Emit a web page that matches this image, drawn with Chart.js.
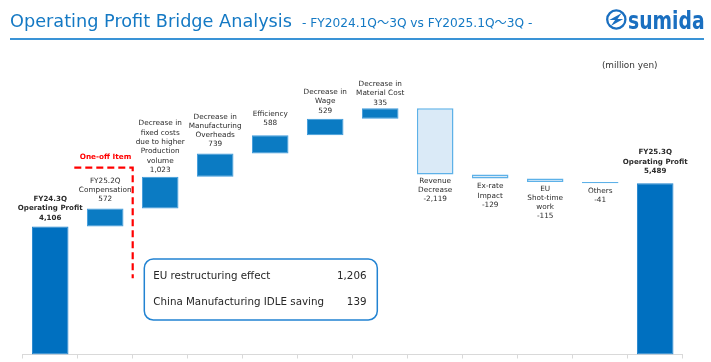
<!DOCTYPE html>
<html>
<head>
<meta charset="utf-8">
<script src="https://cdn.jsdelivr.net/npm/chart.js@4.4.1/dist/chart.umd.min.js"></script>
<style>
  body { margin: 0; background: #fff; }
  #wrap { position: relative; width: 711px; height: 362px; overflow: hidden; }
</style>
</head>
<body>
<div id="wrap">
  <canvas id="js-bridge-chart" width="711" height="362"></canvas>
</div>
<script>
// data
const categories = [
  ['FY24.3Q', 'Operating Profit'],
  ['FY25.2Q', 'Compensation'],
  ['Decrease in', 'fixed costs', 'due to higher', 'Production', 'volume'],
  ['Decrease in', 'Manufacturing', 'Overheads'],
  ['Efficiency'],
  ['Decrease in', 'Wage'],
  ['Decrease in', 'Material Cost'],
  ['Revenue', 'Decrease'],
  ['Ex-rate', 'Impact'],
  ['EU', 'Shot-time', 'work'],
  ['Others'],
  ['FY25.3Q', 'Operating Profit']
];
const startValue = 4106;
const changes = [572, 1023, 739, 588, 529, 335, -2119, -129, -115, -41];
const endValue = 5489;
const boxItems = ['EU restructuring effect', 'China Manufacturing IDLE saving'];
const boxValues = [1206, 139];

// distance of the label block from its bar (px), as placed on the slide
const labelGap = [8.7, 9.3, 6.7, 9, 12, 8, 5.6, 6.4, 8, 6.7, 8, 12];

// floating bars for the bridge
const shownValues = [startValue].concat(changes, [endValue]);
const bars = [[0, startValue]];
let running = startValue;
changes.forEach(c => {
  bars.push([running, running + c]);
  running += c;
});
bars.push([0, endValue]);

const lastIdx = bars.length - 1;
const isTotal = i => i === 0 || i === lastIdx;
const fillColors = shownValues.map((v, i) => isTotal(i) ? '#0070C0' : (v > 0 ? '#0B7BC3' : '#DAEAF7'));
const edgeColors = shownValues.map((v, i) => isTotal(i) ? '#1E82CC' : (v > 0 ? '#3E9ADB' : '#5DB1E8'));
const edgeWidths = shownValues.map(v => v > 0 ? 1 : 1.5);

const FONT = '"DejaVu Sans", Verdana, sans-serif';

// labels above / below each bar
const barLabels = {
  id: 'barLabels',
  afterDatasetsDraw(chart) {
    const { ctx } = chart;
    const meta = chart.getDatasetMeta(0);
    const lineH = 9.3;
    ctx.save();
    ctx.fillStyle = '#2B2B2B';
    ctx.textAlign = 'center';
    ctx.textBaseline = 'middle';
    meta.data.forEach((el, i) => {
      const lines = categories[i].concat([shownValues[i].toLocaleString('en-US')]);
      const top = Math.min(el.y, el.base);
      const bottom = Math.max(el.y, el.base);
      ctx.font = (isTotal(i) ? 'bold 7.1px ' : '7.3px ') + FONT;
      if (shownValues[i] >= 0) {
        const last = top - labelGap[i];
        lines.forEach((t, k) => ctx.fillText(t, el.x, last - (lines.length - 1 - k) * lineH));
      } else {
        const first = bottom + labelGap[i];
        lines.forEach((t, k) => ctx.fillText(t, el.x, first + k * lineH));
      }
    });
    ctx.restore();
  }
};

// slide decoration: title, logo, unit, one-off marker, note box
const slideParts = {
  id: 'slideParts',
  afterDraw(chart) {
    const { ctx, scales: { x } } = chart;
    const half = (x.getPixelForValue(1) - x.getPixelForValue(0)) / 2;
    ctx.save();

    // title
    ctx.textBaseline = 'alphabetic';
    ctx.textAlign = 'left';
    ctx.fillStyle = '#1479C4';
    ctx.font = '17.7px ' + FONT;
    ctx.fillText('Operating Profit Bridge Analysis', 10, 27.3);
    ctx.font = '12.2px ' + FONT + ', "Noto Sans CJK JP"';
    ctx.fillText('- FY2024.1Q〜3Q vs FY2025.1Q〜3Q -', 302, 27.3);

    ctx.strokeStyle = '#3A93D6';
    ctx.lineWidth = 2;
    ctx.beginPath();
    ctx.moveTo(10, 39);
    ctx.lineTo(704, 39);
    ctx.stroke();

    // logo
    const cx = 616.3, cy = 19.5;
    ctx.strokeStyle = '#1A6FC0';
    ctx.fillStyle = '#1A6FC0';
    ctx.lineWidth = 2.3;
    ctx.beginPath();
    ctx.arc(cx, cy, 9.1, 0, Math.PI * 2);
    ctx.stroke();
    ctx.beginPath();
    ctx.moveTo(cx - 7, cy + 0.5);
    ctx.lineTo(cx + 5.5, cy - 6.5);
    ctx.lineTo(cx + 0.5, cy + 0.5);
    ctx.closePath();
    ctx.fill();
    ctx.beginPath();
    ctx.moveTo(cx + 7, cy - 0.5);
    ctx.lineTo(cx - 5.5, cy + 6.5);
    ctx.lineTo(cx - 0.5, cy - 0.5);
    ctx.closePath();
    ctx.fill();
    ctx.save();
    ctx.translate(628, 29.3);
    ctx.scale(0.75, 1);
    ctx.font = 'bold 25px ' + FONT;
    ctx.fillText('sumida', 0, 0);
    ctx.restore();

    // unit
    ctx.fillStyle = '#333';
    ctx.textAlign = 'center';
    ctx.textBaseline = 'middle';
    ctx.font = '8.9px ' + FONT;
    ctx.fillText('(million yen)', 629.7, 65.7);

    // one-off item marker
    const edge = x.getPixelForValue(2) - half;
    ctx.strokeStyle = '#FF0000';
    ctx.lineWidth = 2.2;
    ctx.setLineDash([7, 4]);
    ctx.beginPath();
    ctx.moveTo(x.getPixelForValue(1) - half - 3.4, 167.7);
    ctx.lineTo(edge, 167.7);
    ctx.lineTo(edge, 278.3);
    ctx.stroke();
    ctx.setLineDash([]);
    ctx.fillStyle = '#FF0000';
    ctx.font = 'bold 7.3px ' + FONT;
    ctx.fillText('One-off Item', 105.5, 157.3);

    // note box
    ctx.fillStyle = '#fff';
    ctx.strokeStyle = '#2283D2';
    ctx.lineWidth = 1.5;
    ctx.beginPath();
    ctx.roundRect(144.3, 259, 233, 61, 9);
    ctx.fill();
    ctx.stroke();
    ctx.fillStyle = '#262626';
    ctx.font = '10.3px ' + FONT;
    boxItems.forEach((t, k) => {
      const y = 276.7 + k * 26;
      ctx.textAlign = 'left';
      ctx.fillText(t, 153.3, y);
      ctx.textAlign = 'right';
      ctx.fillText(boxValues[k].toLocaleString('en-US'), 366.5, y);
    });

    ctx.restore();
  }
};

const ctx = document.getElementById('js-bridge-chart').getContext('2d');
const bridgeChart = new Chart(ctx, {
  type: 'bar',
  data: {
    labels: categories,
    datasets: [{
      data: bars,
      backgroundColor: fillColors,
      borderColor: edgeColors,
      borderWidth: edgeWidths,
      borderSkipped: false,
      barPercentage: 0.665,
      categoryPercentage: 1
    }]
  },
  options: {
    responsive: false,
    animation: false,
    devicePixelRatio: 1,
    layout: { padding: { left: 22.7, right: 28.3, top: 42.5, bottom: 3.5 } },
    plugins: {
      legend: { display: false },
      tooltip: { enabled: false }
    },
    scales: {
      x: {
        grid: { drawOnChartArea: false, drawTicks: true, tickLength: 4, color: '#D9D9D9' },
        border: { color: '#D9D9D9' },
        ticks: { display: false }
      },
      y: { display: false, min: 0, max: 10000 }
    }
  },
  plugins: [barLabels, slideParts]
});
</script>
</body>
</html>
